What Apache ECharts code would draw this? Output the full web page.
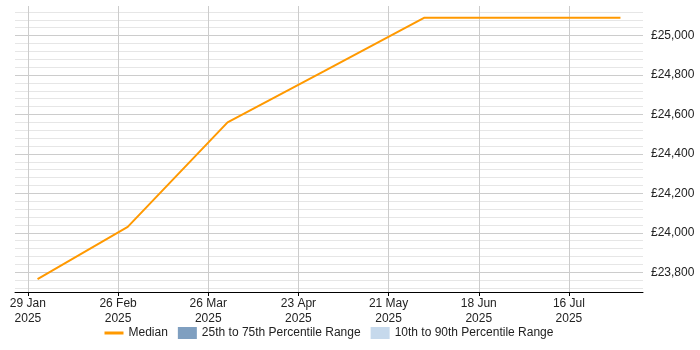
<!DOCTYPE html>
<html>
<head>
<meta charset="utf-8">
<script src="https://cdn.jsdelivr.net/npm/echarts@6/dist/echarts.min.js"></script>
<style>
    html, body { margin: 0; padding: 0; background: #fff; }
    #chart { width: 700px; height: 350px; }
</style>
</head>
<body>
<div id="chart"></div>
<script>
// ──── 数据 ────
const pointDates = ['2025-02-01', '2025-03-01', '2025-04-01', '2025-05-01', '2025-06-01', '2025-07-01', '2025-08-01'];
const medianValues = [23765, 24030, 24560, 24820, 25090, 25090, 25090];
const tickDates = ['2025-01-29', '2025-02-26', '2025-03-26', '2025-04-23', '2025-05-21', '2025-06-18', '2025-07-16'];
const yMajorTicks = [23800, 24000, 24200, 24400, 24600, 24800, 25000];
const yMinorTicks = [23720, 23760, 23840, 23880, 23920, 23960, 24040, 24080, 24120, 24160,
    24240, 24280, 24320, 24360, 24440, 24480, 24520, 24560, 24640, 24680, 24720, 24760,
    24840, 24880, 24920, 24960, 25040, 25080, 25120];
const legendNames = ['Median', '25th to 75th Percentile Range', '10th to 90th Percentile Range'];

const MONTHS = ['Jan', 'Feb', 'Mar', 'Apr', 'May', 'Jun', 'Jul', 'Aug', 'Sep', 'Oct', 'Nov', 'Dec'];
const ts = s => Date.parse(s + 'T00:00:00Z');
const FONT = '"Liberation Sans", Arial, sans-serif';
const Y_MIN = 23700, Y_MAX = 25150;

const chart = echarts.init(document.getElementById('chart'), null, { renderer: 'canvas' });

chart.setOption({
    animation: false,
    textStyle: { fontFamily: FONT },
    grid: { left: 15, right: 57, top: 6, bottom: 58 },
    legend: {
        left: 98,
        top: 322,
        itemWidth: 19,
        itemHeight: 12,
        itemGap: 10,
        textStyle: { fontSize: 12, color: '#222', fontFamily: FONT },
        data: [
            { name: legendNames[0], itemStyle: { opacity: 0 }, lineStyle: { width: 3 } },
            { name: legendNames[1], icon: 'rect' },
            { name: legendNames[2], icon: 'rect' },
        ],
    },
    xAxis: {
        type: 'value',
        min: ts('2025-01-25'),
        max: ts('2025-08-08'),
        axisLine: { lineStyle: { color: '#000', width: 1 } },
        axisTick: { show: true, length: 4, lineStyle: { color: '#000' }, customValues: tickDates.map(ts) },
        axisLabel: {
            customValues: tickDates.map(ts),
            margin: 4,
            fontSize: 12,
            lineHeight: 15,
            color: '#222',
            formatter: v => {
                const d = new Date(v);
                return d.getUTCDate() + ' ' + MONTHS[d.getUTCMonth()] + '\n' + d.getUTCFullYear();
            },
        },
        splitLine: { show: true, lineStyle: { color: '#cccccc', width: 1 } },
    },
    yAxis: [
        {
            // 主刻度：标签 + 深色网格线
            type: 'value',
            position: 'right',
            min: Y_MIN,
            max: Y_MAX,
            axisLine: { show: false },
            axisTick: { show: false, customValues: yMajorTicks },
            axisLabel: {
                customValues: yMajorTicks,
                margin: 8,
                fontSize: 12,
                color: '#222',
                formatter: v => '£' + v.toLocaleString('en-GB'),
            },
            splitLine: { show: true, lineStyle: { color: '#cccccc', width: 1 } },
        },
        {
            // 次刻度：只画浅色网格线
            type: 'value',
            position: 'right',
            min: Y_MIN,
            max: Y_MAX,
            axisLine: { show: false },
            axisTick: { show: false, customValues: yMinorTicks },
            axisLabel: { show: false, customValues: yMinorTicks },
            splitLine: { show: true, lineStyle: { color: '#e6e6e6', width: 1 } },
        },
    ],
    series: [
        {
            name: legendNames[0],
            type: 'line',
            yAxisIndex: 0,
            data: pointDates.map((d, i) => [ts(d), medianValues[i]]),
            showSymbol: false,
            symbol: 'none',
            color: '#ff9900',
            lineStyle: { color: '#ff9900', width: 2 },
            z: 5,
        },
        {
            name: legendNames[1],
            type: 'line',
            data: [],
            color: '#7f9fc0',
            itemStyle: { color: '#7f9fc0' },
        },
        {
            name: legendNames[2],
            type: 'line',
            data: [],
            color: '#c6d9ec',
            itemStyle: { color: '#c6d9ec' },
        },
    ],
});
</script>
</body>
</html>
